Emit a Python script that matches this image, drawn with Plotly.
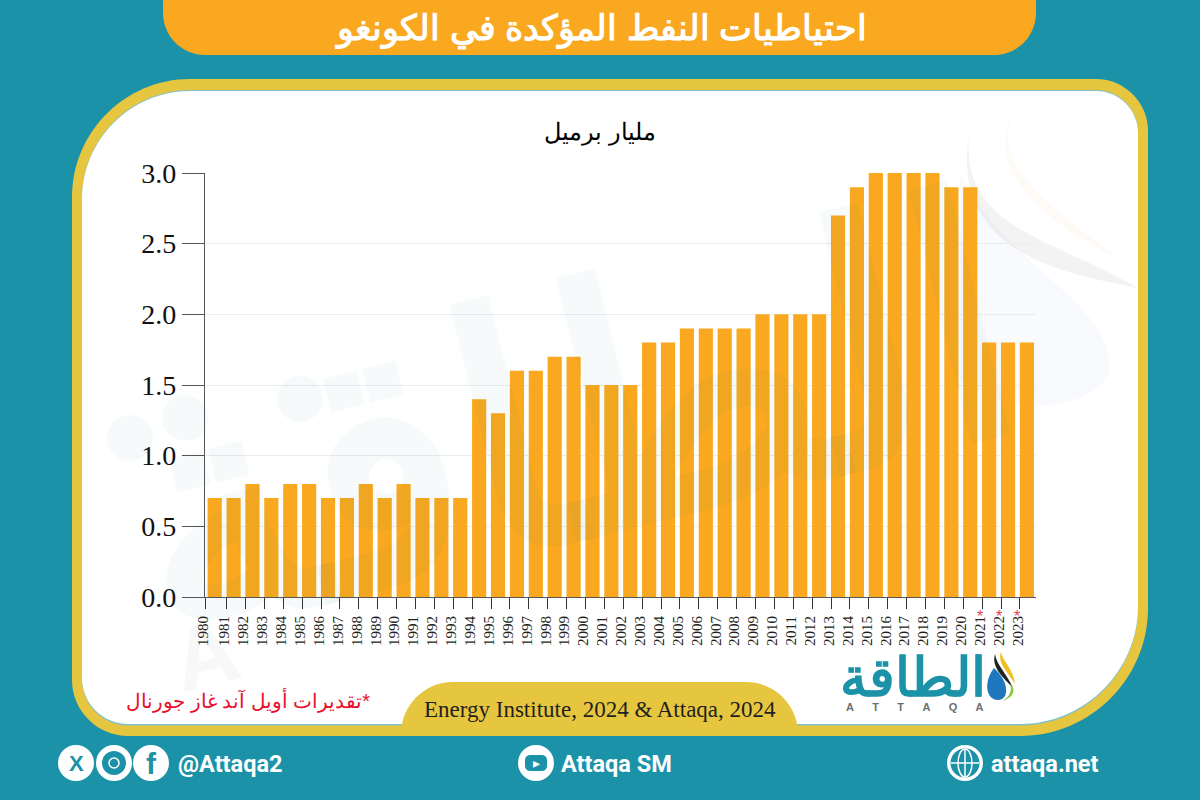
import plotly.graph_objects as go

# ==========================================================
# Data
# ==========================================================

years = list(range(1980, 2024))
reserves = [
    0.7, 0.7, 0.8, 0.7, 0.8, 0.8, 0.7, 0.7, 0.8, 0.7, 0.8,
    0.7, 0.7, 0.7, 1.4, 1.3, 1.6, 1.6, 1.7, 1.7, 1.5,
    1.5, 1.5, 1.8, 1.8, 1.9, 1.9, 1.9, 1.9, 2.0, 2.0,
    2.0, 2.0, 2.7, 2.9, 3.0, 3.0, 3.0, 3.0, 2.9, 2.9,
    1.8, 1.8, 1.8,
]
estimated_years = [2021, 2022, 2023]
y_ticks = [0.0, 0.5, 1.0, 1.5, 2.0, 2.5, 3.0]

title_text = "احتياطيات النفط المؤكدة في الكونغو"
unit_text = "مليار برميل"
note_text = "\u200f*تقديرات أويل آند غاز جورنال"
source_text = "Energy Institute, 2024 &amp; Attaqa, 2024"

TEAL = "#1b92a8"
GOLD = "#e6c63f"
ORANGE = "#f9a81f"
WM = "rgba(40,100,150,0.035)"
W, H = 1200, 800


def fx(x):
    return x / W


def fy(y):
    return 1 - y / H


def round_path(x0, y0, x1, y1, tl, tr, br, bl):
    """Rounded box in canvas pixels, each corner with its own radius."""
    k = 0.45
    pts = [
        f"M{fx(x0 + tl)},{fy(y0)}", f"L{fx(x1 - tr)},{fy(y0)}",
        f"C{fx(x1 - tr * k)},{fy(y0)} {fx(x1)},{fy(y0 + tr * k)} {fx(x1)},{fy(y0 + tr)}",
        f"L{fx(x1)},{fy(y1 - br)}",
        f"C{fx(x1)},{fy(y1 - br * k)} {fx(x1 - br * k)},{fy(y1)} {fx(x1 - br)},{fy(y1)}",
        f"L{fx(x0 + bl)},{fy(y1)}",
        f"C{fx(x0 + bl * k)},{fy(y1)} {fx(x0)},{fy(y1 - bl * k)} {fx(x0)},{fy(y1 - bl)}",
        f"L{fx(x0)},{fy(y0 + tl)}",
        f"C{fx(x0)},{fy(y0 + tl * k)} {fx(x0 + tl * k)},{fy(y0)} {fx(x0 + tl)},{fy(y0)}",
        "Z",
    ]
    return " ".join(pts)


def free_path(points):
    """Curve through canvas pixels: M x y, then C triples."""
    out = [f"M{fx(points[0][0])},{fy(points[0][1])}"]
    for i in range(1, len(points), 3):
        a, b, c = points[i:i + 3]
        out.append(f"C{fx(a[0])},{fy(a[1])} {fx(b[0])},{fy(b[1])} {fx(c[0])},{fy(c[1])}")
    return " ".join(out) + " Z"


def box(path, color, layer="below"):
    return dict(type="path", path=path, xref="paper", yref="paper",
                fillcolor=color, line_width=0, layer=layer)


def circle(cx, cy, r, color, line=None, width=0, layer="above"):
    return dict(type="circle", xref="paper", yref="paper",
                x0=fx(cx - r), x1=fx(cx + r), y0=fy(cy + r), y1=fy(cy - r),
                fillcolor=color, line=dict(color=line or color, width=width), layer=layer)


def label(x, y, text, size, color, family="Liberation Sans", angle=0, bold=False):
    if bold:
        text = f"<b>{text}</b>"
    return dict(x=fx(x), y=fy(y), xref="paper", yref="paper", text=text,
                showarrow=False, textangle=angle, xanchor="center", yanchor="middle",
                font=dict(size=size, color=color, family=family))


# ==========================================================
# Frame, tabs, watermark, logo drawing
# ==========================================================

shapes = [
    box(round_path(72, 79, 1148, 736, 118, 52, 128, 56), GOLD),
    box(round_path(82, 90, 1138, 725.5, 108, 42, 118, 46), "#7fc0cc"),
    box(round_path(82, 91, 1138, 724, 108, 42, 118, 46), "white"),
    box(round_path(163, -20, 1036, 55, 0, 0, 42, 42), ORANGE),
    box(round_path(401, 682, 798, 736, 52, 52, 0, 0), GOLD),
    # flame watermark, top right
    box(free_path([(970, 130), (955, 230), (1060, 240), (1137, 288),
                   (1080, 275), (945, 260), (970, 130)]), "rgba(120,120,130,0.09)"),
    box(free_path([(1015, 108), (985, 170), (1060, 210), (1120, 260),
                   (1070, 235), (975, 180), (1015, 108)]), "rgba(245,170,110,0.06)"),
    box(free_path([(960, 175), (1010, 270), (1110, 300), (1110, 370),
                   (1090, 420), (990, 410), (960, 380)]), "rgba(90,120,200,0.04)"),
    # round dots of the Arabic watermark
    circle(130, 438, 23, WM),
    circle(185, 418, 23, WM),
    circle(300, 399, 23, WM),
    # logo drop
    box(free_path([(994, 668), (983, 682), (986, 700), (998, 700),
                   (1009, 700), (1010, 682), (994, 668)]), "#1f78bd", "above"),
    box(free_path([(995, 654), (991, 668), (1004, 678), (1013, 688),
                   (1006, 672), (997, 666), (995, 654)]), "#222222", "above"),
    box(free_path([(1001, 652), (997, 663), (1008, 672), (1015, 684),
                   (1013, 668), (1003, 662), (1001, 652)]), "#f0c020", "above"),
    box(free_path([(1010, 684), (1017, 690), (1013, 698), (1002, 701),
                   (1008, 698), (1013, 692), (1010, 684)]), "#8cc63f", "above"),
    # social icons
    circle(76, 763, 18, "white"),
    circle(114, 763, 18, "white"),
    circle(151, 763, 18, "white"),
    circle(114, 763, 12, TEAL),
    circle(114, 763, 5, TEAL, "white", 1.5),
    circle(536, 763, 18, "white"),
    box(round_path(525, 755, 547, 771, 5, 5, 5, 5), TEAL, "above"),
    circle(965, 763, 18, "white"),
    circle(965, 763, 14.5, TEAL),
    dict(type="circle", xref="paper", yref="paper", x0=fx(958), x1=fx(972),
         y0=fy(777), y1=fy(749), line=dict(color="white", width=1.5), layer="above"),
    dict(type="line", xref="paper", yref="paper", x0=fx(951), x1=fx(979),
         y0=fy(763), y1=fy(763), line=dict(color="white", width=1.5), layer="above"),
    dict(type="line", xref="paper", yref="paper", x0=fx(965), x1=fx(965),
         y0=fy(749), y1=fy(777), line=dict(color="white", width=1.5), layer="above"),
]

annotations = [
    label(600, 29, title_text, 34.5, "white", bold=True),
    label(600, 132, unit_text, 24, "black"),
    label(248, 700, note_text, 20, "#e8112d"),
    label(600, 709, source_text, 23, "#231f20", "Liberation Serif"),
    # watermark
    label(570, 420, "الطاقة", 330, WM, angle=-14, bold=True),
    label(205, 655, "A", 90, "rgba(120,120,130,0.05)", angle=-14, bold=True),
    # logo
    label(913, 677, "الطاقة", 54, TEAL, bold=True),
    label(915, 707, "A\u00a0\u00a0\u00a0\u00a0\u00a0\u00a0T\u00a0\u00a0\u00a0\u00a0\u00a0\u00a0T"
                    "\u00a0\u00a0\u00a0\u00a0\u00a0\u00a0A\u00a0\u00a0\u00a0\u00a0\u00a0\u00a0Q"
                    "\u00a0\u00a0\u00a0\u00a0\u00a0\u00a0A", 11, "#6d6e71", bold=True),
    # footer
    label(76, 763, "X", 22, TEAL, bold=True),
    label(151, 763, "f", 30, TEAL, bold=True),
    label(230, 764, "@Attaqa2", 23.5, "white", "Roboto", bold=True),
    label(536, 763, "▸", 14, "white"),
    label(616.5, 764, "Attaqa SM", 23.5, "white", "Roboto", bold=True),
    label(1044.5, 764, "attaqa.net", 23.5, "white", "Roboto", bold=True),
]

# red stars above the estimated years
for year in estimated_years:
    annotations.append(dict(x=year - 0.5, y=fy(627), xref="x", yref="paper", text="*",
                            showarrow=False, font=dict(size=16, color="#ee3b55",
                                                       family="Liberation Sans")))

# ==========================================================
# Chart
# ==========================================================

fig = go.Figure(go.Bar(x=years, y=reserves, width=0.75,
                       marker=dict(color=ORANGE, line_width=0)))

fig.update_layout(
    width=W,
    height=H,
    autosize=False,
    showlegend=False,
    paper_bgcolor=TEAL,
    plot_bgcolor="rgba(0,0,0,0)",
    margin=dict(l=0, r=0, t=0, b=0, autoexpand=False),
    shapes=shapes,
    annotations=annotations,
    xaxis=dict(
        domain=[fx(205), fx(1036)],
        range=[1979.487, 2023.48],
        tickmode="array",
        tickvals=[years[0] - 0.49] + [y - 0.37 for y in years[1:]],
        ticktext=[str(y) for y in years],
        tickangle=-90,
        ticks="outside",
        ticklen=11,
        tickcolor="#333333",
        ticklabelshift=-2,
        ticklabelstandoff=1,
        tickfont=dict(size=15, family="Liberation Serif", color="#231f20"),
        showline=True,
        linecolor="#555555",
        showgrid=False,
        zeroline=False,
    ),
    yaxis=dict(
        domain=[fy(597), fy(173)],
        range=[0, 3],
        tickmode="array",
        tickvals=y_ticks,
        ticktext=[f"{v:.1f}" for v in y_ticks],
        ticks="outside",
        ticklen=22,
        tickwidth=1.3,
        tickcolor="#555555",
        tickfont=dict(size=28, family="Liberation Serif", color="#111111"),
        showline=True,
        linewidth=1.3,
        linecolor="#555555",
        gridcolor="#e9edf0",
        zeroline=False,
    ),
)

fig.write_html("out.html", config=dict(displayModeBar=False),
               post_script="document.body.style.margin='0';")
